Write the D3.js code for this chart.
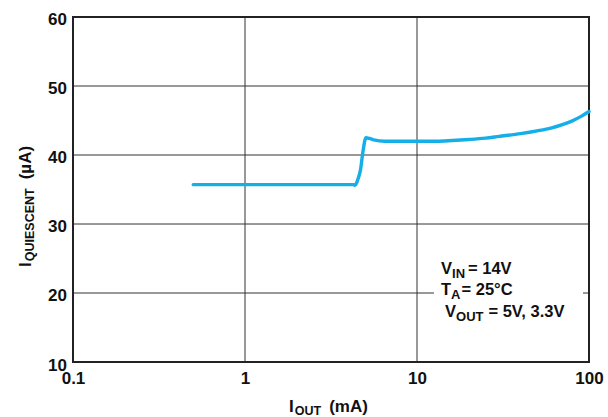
<!DOCTYPE html>
<html>
<head>
<meta charset="utf-8">
<script src="https://cdn.jsdelivr.net/npm/d3@7"></script>
<style>
  body { margin: 0; background: #fff; }
  text { font-family: "Liberation Sans", Arial, sans-serif; font-weight: bold; fill: #111; }
</style>
</head>
<body>
<div id="chart"></div>
<script>
// curve
const iOut = [0.5, 1, 2, 3, 4, 4.3, 4.36, 4.45, 4.55, 4.69, 4.85, 5.05, 5.3, 5.6, 6.5, 8, 10, 13, 16, 20, 25, 30, 40, 50, 60, 70, 80, 90, 100];
const iQ   = [35.7, 35.7, 35.7, 35.7, 35.7, 35.7, 35.6, 35.9, 36.6, 37.8, 40.5, 42.5, 42.4, 42.2, 42.0, 42.0, 42.0, 42.0, 42.1, 42.25, 42.45, 42.7, 43.1, 43.5, 43.9, 44.4, 44.95, 45.6, 46.3];

const xTicks = [0.1, 1, 10, 100];
const xTickLabels = ["0.1", "1", "10", "100"];
const yTicks = [10, 20, 30, 40, 50, 60];

const W = 608, H = 417;
const margin = {top: 17, right: 19, bottom: 55, left: 73};
const width = W - margin.left - margin.right,
      height = H - margin.top - margin.bottom;

const svg = d3.select("#chart").append("svg")
    .attr("width", W).attr("height", H);
const g = svg.append("g")
    .attr("transform", "translate(" + margin.left + "," + margin.top + ")");

const x = d3.scaleLog().domain([0.1, 100]).range([0, width]);
const y = d3.scaleLinear().domain([10, 60]).range([height, 0]);

// grid
g.append("g").selectAll("line").data(xTicks.slice(1, -1)).enter().append("line")
    .attr("x1", d => x(d)).attr("x2", d => x(d))
    .attr("y1", 0).attr("y2", height)
    .attr("stroke", "#333").attr("stroke-width", 1);
g.append("g").selectAll("line").data(yTicks.slice(1, -1)).enter().append("line")
    .attr("x1", 0).attr("x2", width)
    .attr("y1", d => y(d)).attr("y2", d => y(d))
    .attr("stroke", "#333").attr("stroke-width", 1);

// box behind the conditions text
g.append("rect")
    .attr("x", 361).attr("y", 238)
    .attr("width", 149).attr("height", 66)
    .attr("fill", "#fff");

// frame
g.append("rect")
    .attr("width", width).attr("height", height)
    .attr("fill", "none").attr("stroke", "#222").attr("stroke-width", 2);

// axes, only for the labels
const xAxis = d3.axisBottom(x).tickValues(xTicks)
    .tickFormat((d, i) => xTickLabels[i]).tickSize(0).tickPadding(10);
const yAxis = d3.axisLeft(y).tickValues(yTicks)
    .tickFormat(d3.format("d")).tickSize(0).tickPadding(6);

g.append("g").attr("transform", "translate(0," + height + ")").call(xAxis)
    .call(a => a.select(".domain").remove())
    .selectAll("text").attr("font-size", 17).attr("font-family", null).attr("fill", null);
g.append("g").call(yAxis)
    .call(a => a.select(".domain").remove())
    .selectAll("text").attr("font-size", 17).attr("font-family", null).attr("fill", null)
    .attr("dy", d => d === 10 ? "0.48em" : "0.45em");

// curve
const pts = iOut.map((d, i) => ({i: d, q: iQ[i]}));
g.append("path")
    .datum(pts)
    .attr("fill", "none")
    .attr("stroke", "#14aee9")
    .attr("stroke-width", 3.4)
    .attr("stroke-linejoin", "round")
    .attr("stroke-linecap", "round")
    .attr("d", d3.line().x(d => x(d.i)).y(d => y(d.q)).curve(d3.curveMonotoneX));

// axis titles
const xl = svg.append("text")
    .attr("x", 289).attr("y", 412)
    .attr("font-size", 17);
xl.append("tspan").text("I");
xl.append("tspan").attr("font-size", 12.5).attr("dy", 3).attr("dx", 1).text("OUT");
xl.append("tspan").attr("dy", -3).attr("dx", 8).text("(mA)");

const yl = svg.append("text")
    .attr("transform", "translate(31,267) rotate(-90)")
    .attr("font-size", 17);
yl.append("tspan").text("I");
yl.append("tspan").attr("font-size", 12.5).attr("dy", 3).attr("dx", 1).text("QUIESCENT");
yl.append("tspan").attr("dy", -3).attr("dx", 9).text("(µA)");

// conditions
const notes = [
  {x: 441, y: 274, main: "V", sub: "IN", rest: "= 14V", gap: 3},
  {x: 441, y: 295, main: "T", sub: "A", rest: "= 25°C", gap: 1},
  {x: 445, y: 317, main: "V", sub: "OUT", rest: "=  5V, 3.3V", gap: 5}
];
notes.forEach(n => {
  const t = svg.append("text").attr("x", n.x).attr("y", n.y).attr("font-size", 16.5);
  t.append("tspan").text(n.main);
  t.append("tspan").attr("font-size", 13).attr("dy", 4).text(n.sub);
  t.append("tspan").attr("dy", -4).attr("dx", n.gap).text(n.rest);
});
</script>
</body>
</html>
